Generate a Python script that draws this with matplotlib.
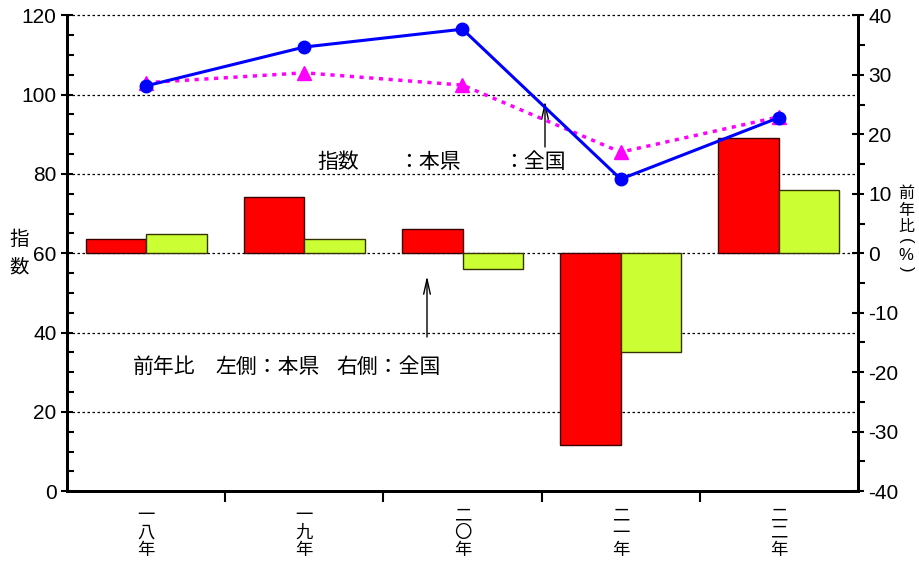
import matplotlib
matplotlib.use("Agg")
import matplotlib.pyplot as plt
import numpy as np

# ---- data ----
categories = ["一\n八\n年", "一\n九\n年", "二\n〇\n年", "二\n一\n年", "二\n二\n年"]
index_pref = [102.2, 112.0, 116.5, 78.7, 94.2]      # 指数 本県
index_nat = [103.0, 105.5, 102.4, 85.5, 94.4]       # 指数 全国
yoy_pref = [2.4, 9.5, 4.1, -32.2, 19.4]             # 前年比 本県 (%)
yoy_nat = [3.2, 2.4, -2.7, -16.6, 10.6]             # 前年比 全国 (%)
left_ticks = [0, 20, 40, 60, 80, 100, 120]
right_ticks = [-40, -30, -20, -10, 0, 10, 20, 30, 40]

CJK = ["Noto Sans CJK JP", "DejaVu Sans"]
NUM = ["Liberation Sans Narrow", "Liberation Sans", "DejaVu Sans"]

fig = plt.figure(figsize=(9.2, 5.62), dpi=100)
axL = fig.add_axes([67/920, 1-491.2/562, (858-67)/920, (491.2-15.3)/562])
axR = axL.twinx()
axL.set_zorder(2)
axR.set_zorder(1)
axL.patch.set_visible(False)

x = np.arange(len(categories))
w = 0.383

# bars (right axis)
axR.bar(x - w/2, yoy_pref, w, color="#FF0000", edgecolor="#3a0000", linewidth=1.0, zorder=3)
axR.bar(x + w/2, yoy_nat, w, color="#CCFF33", edgecolor="#333300", linewidth=1.0, zorder=3)
axR.set_ylim(right_ticks[0], right_ticks[-1])
axR.set_yticks(right_ticks)
axR.set_yticklabels([str(v) for v in right_ticks], fontfamily=NUM, fontsize=15)
axR.yaxis.set_minor_locator(matplotlib.ticker.MultipleLocator(5))

# dotted gridlines at the left-axis major ticks (drawn behind bars)
for v in left_ticks[1:]:
    f = (v - left_ticks[0]) / (left_ticks[-1] - left_ticks[0])
    axR.plot([0, 1], [f, f], transform=axR.transAxes, color="black",
             linestyle=(0, (2, 2)), linewidth=0.9, zorder=1, clip_on=False)

# lines (left axis)
axL.plot(x, index_pref, color="#0000FF", linewidth=2.2, marker="o", markersize=9,
         zorder=5, clip_on=False)
axL.plot(x, index_nat, color="#FF00FF", linewidth=2.5, linestyle=(0, (1.2, 1.6)),
         marker="^", markersize=10, zorder=4, clip_on=False)
axL.set_ylim(left_ticks[0], left_ticks[-1])
axL.set_yticks(left_ticks)
axL.set_yticklabels([str(v) for v in left_ticks], fontfamily=NUM, fontsize=15)
axL.yaxis.set_minor_locator(matplotlib.ticker.MultipleLocator(5))
axL.set_xlim(-0.5, len(categories) - 0.5)

# x axis: labels at centers, ticks at boundaries
axL.set_xticks(x)
axL.set_xticklabels(categories, fontfamily=CJK, fontsize=12.5, linespacing=0.95)
axL.tick_params(axis="x", which="major", length=0, pad=11)
axL.set_xticks(x[:-1] + 0.5, minor=True)
axL.tick_params(axis="x", which="minor", length=8, width=1.5, direction="out")

axL.tick_params(axis="y", which="major", direction="inout", length=9, width=1.5, pad=3)
axL.tick_params(axis="y", which="minor", direction="in", length=5, width=1.5)
axR.tick_params(axis="y", which="major", direction="inout", length=9, width=1.5, pad=3)
axR.tick_params(axis="y", which="minor", direction="out", length=5, width=1.5)

for ax in (axL, axR):
    ax.spines["top"].set_visible(False)
    ax.spines["left"].set_linewidth(2)
    ax.spines["right"].set_linewidth(2)
    ax.spines["bottom"].set_linewidth(2)

# axis titles
fig.text(19/920, 1-253/562, "指\n数", fontfamily=CJK, fontsize=14, ha="center",
         va="center", linespacing=1.4)
# right title: 前年比（%） written vertically
for ch, yy in zip(["前", "年", "比"], [193, 210, 227]):
    fig.text(906/920, 1-yy/562, ch, fontfamily=CJK, fontsize=11.5,
             ha="center", va="center")
fig.text(906/920, 1-241/562, "(", fontfamily=NUM, fontsize=12, rotation=-90,
         ha="center", va="center")
fig.text(906/920, 1-255/562, "%", fontfamily=NUM, fontsize=12,
         ha="center", va="center")
fig.text(906/920, 1-269/562, ")", fontfamily=NUM, fontsize=12, rotation=-90,
         ha="center", va="center")

# legend texts (markers intentionally absent as in reference)
ty = 1 - 162/562
fig.text(317/920, ty, "指数", fontfamily=CJK, fontsize=15, va="center")
fig.text(398/920, ty, "：本県", fontfamily=CJK, fontsize=15, va="center")
fig.text(503/920, ty, "：全国", fontfamily=CJK, fontsize=15, va="center")
ty2 = 1 - 367/562
fig.text(133/920, ty2, "前年比", fontfamily=CJK, fontsize=15, va="center")
fig.text(215/920, ty2, "左側：本県", fontfamily=CJK, fontsize=15, va="center")
fig.text(336/920, ty2, "右側：全国", fontfamily=CJK, fontsize=15, va="center")

# arrows
for (xa, y0, y1) in [(545, 147, 101), (427, 337, 276)]:
    axL.annotate("", xy=(xa/920, 1-y1/562), xytext=(xa/920, 1-y0/562),
                 xycoords="figure fraction", textcoords="figure fraction",
                 arrowprops=dict(arrowstyle="->,head_length=0.9,head_width=0.2",
                                 color="black", lw=1.0, shrinkA=0, shrinkB=0,
                                 mutation_scale=12))

fig.savefig("out.png", dpi=100)
